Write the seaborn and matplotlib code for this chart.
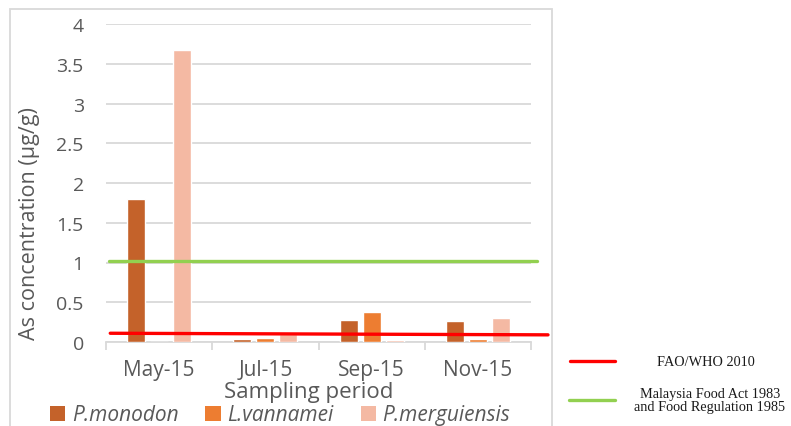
import matplotlib
matplotlib.use("Agg")
import matplotlib.pyplot as plt
from matplotlib.patches import Rectangle, Patch
from matplotlib.lines import Line2D
from matplotlib.ticker import FixedLocator
import seaborn as sns
import pandas as pd

# Arsenic concentration in prawn species by sampling month
periods = ["May-15", "Jul-15", "Sep-15", "Nov-15"]
species = ["P.monodon", "L.vannamei", "P.merguiensis"]
monodon = [1.80, 0.035, 0.28, 0.26]
vannamei = [0.0, 0.05, 0.38, 0.04]
merguiensis = [3.67, 0.10, 0.025, 0.30]
colors = ["#C4622A", "#ED7D31", "#F4B9A3"]

# Permissible limits (value at the left and right end of each drawn line)
fao_who_limit = [0.11, 0.09]
malaysia_limit = [1.02, 1.02]
limit_labels = ["FAO/WHO 2010", "Malaysia Food Act 1983\nand Food Regulation 1985"]

yticks = [0, 0.5, 1, 1.5, 2, 2.5, 3, 3.5, 4]
ytick_labels = ["0", "0.5", "1", "1.5", "2", "2.5", "3", "3.5", "4"]

df = pd.DataFrame({
    "period": periods * 3,
    "species": [s for s in species for _ in periods],
    "value": monodon + vannamei + merguiensis,
})

sns.set_theme(style="white")
plt.rcParams["font.family"] = ["Open Sans", "DejaVu Sans"]
GREY = "#595959"
LIGHT = "#D9D9D9"

W, H = 791, 427
fig = plt.figure(figsize=(W / 100, H / 100), dpi=100)
ax = fig.add_axes([106 / W, 1 - 343 / H, 425 / W, 318 / H])

sns.barplot(data=df, x="period", y="value", hue="species", hue_order=species,
            order=periods, palette=colors, saturation=1, width=0.65, gap=0.22,
            errorbar=None, legend=False, ax=ax, zorder=3)

ax.set_xlim(-0.5, 3.5)
ax.set_ylim(0, 4)
ax.set_yticks(yticks)
ax.set_yticklabels(ytick_labels)
ax.yaxis.grid(True, color=LIGHT, lw=1.3)
ax.set_axisbelow(True)
for side in ["top", "right", "left"]:
    ax.spines[side].set_visible(False)
ax.spines["bottom"].set_color(LIGHT)
ax.spines["bottom"].set_linewidth(1.3)
ax.spines["bottom"].set_zorder(1)
ax.xaxis.set_minor_locator(FixedLocator([-0.5, 0.5, 1.5, 2.5, 3.5]))
ax.tick_params(axis="x", which="minor", length=6, width=1.3, color=LIGHT, direction="out", bottom=True)
ax.tick_params(axis="x", which="major", length=0, pad=12, labelsize=15, labelcolor=GREY)
ax.tick_params(axis="y", length=0, pad=16, labelsize=14, labelcolor=GREY)
ax.set_xlabel("")
ax.set_ylabel("")

# Limit lines drawn across the chart
ax.plot([-0.46, 3.66], fao_who_limit, color="#FF0000", lw=2.4, clip_on=False, zorder=5)
ax.plot([-0.47, 3.56], malaysia_limit, color="#92D050", lw=2.4, clip_on=False, zorder=5)

# Axis titles
fig.text(30 / W, 1 - 224 / H, "As concentration (µg/g)", rotation=90, ha="center", va="center",
         fontsize=15.5, color=GREY)
fig.text(309 / W, 1 - 393 / H, "Sampling period", ha="center", va="center",
         fontsize=16, color=GREY)

# Species legend
handles = [Patch(facecolor=c, edgecolor="none") for c in colors]
leg = fig.legend(handles, species, ncol=3, loc="center", bbox_to_anchor=(280 / W, 1 - 416 / H),
                 frameon=False, handlelength=0.75, handleheight=0.75, handletextpad=0.3,
                 columnspacing=1.3, borderpad=0, prop={"style": "italic", "size": 15})
for t in leg.get_texts():
    t.set_color(GREY)

# Limit legend
serif = ["Liberation Serif", "DejaVu Serif"]
fig.add_artist(Line2D([570 / W, 615 / W], [1 - 362 / H, 1 - 362 / H], color="#FF0000", lw=2.4,
                      transform=fig.transFigure))
fig.add_artist(Line2D([569 / W, 615 / W], [1 - 401 / H, 1 - 401 / H], color="#92D050", lw=2.4,
                      transform=fig.transFigure))
fig.text(706 / W, 1 - 362 / H, limit_labels[0], ha="center", va="center", fontsize=10.3,
         family=serif, color="#1a1a1a")
fig.text(710 / W, 1 - 401 / H, limit_labels[1], ha="center", va="center", fontsize=10.3,
         family=serif, color="#1a1a1a", linespacing=1.05)

# Chart frame
fig.add_artist(Rectangle((10 / W, -0.05), 542 / W, 1 - 10 / H + 0.05, fill=False,
                         edgecolor=LIGHT, lw=1.3, transform=fig.transFigure))

fig.savefig("out.png", dpi=100)
